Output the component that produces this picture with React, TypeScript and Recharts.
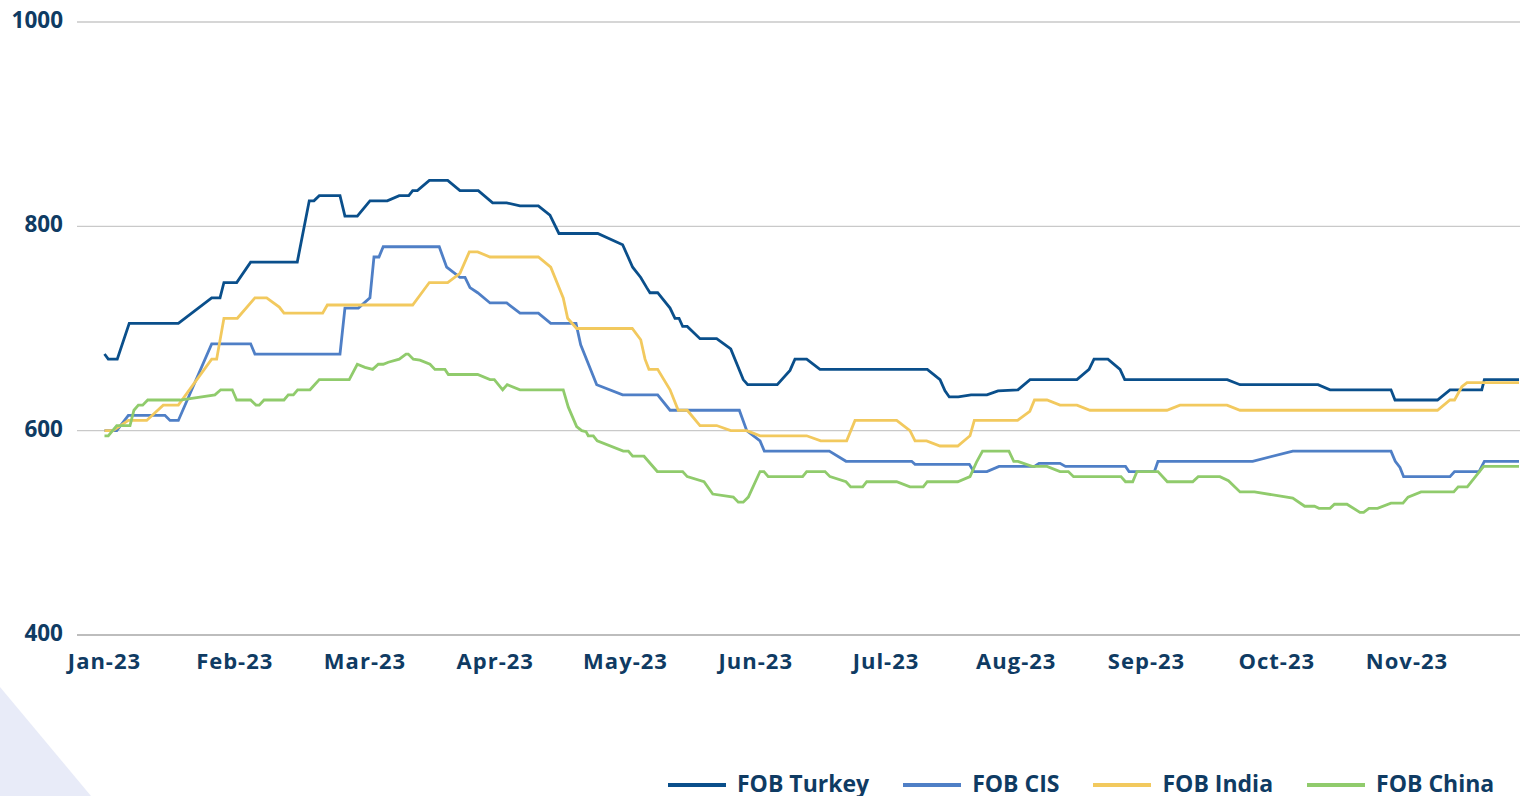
import React from 'react';
import { LineChart, Line, XAxis, YAxis, CartesianGrid } from 'recharts';

// X positions are in months since Jan-23 (0 = Jan-23, 1 = Feb-23, ...)
const monthLabels = ['Jan-23', 'Feb-23', 'Mar-23', 'Apr-23', 'May-23', 'Jun-23', 'Jul-23', 'Aug-23', 'Sep-23', 'Oct-23', 'Nov-23'];
const monthTicks = monthLabels.map((_, i) => i);
const yTicks = [400, 600, 800, 1000];

const fobTurkey: [number, number][] = [
  [0, 675], [0.029, 670], [0.098, 670], [0.19, 705], [0.567, 705], [0.823, 730], [0.887, 730], [0.917, 745],
  [1.015, 745], [1.122, 765], [1.48, 765], [1.572, 825], [1.608, 825], [1.649, 830], [1.808, 830], [1.846, 810],
  [1.941, 810], [2.038, 825], [2.171, 825], [2.263, 830], [2.336, 830], [2.366, 835], [2.402, 835], [2.494, 845],
  [2.635, 845], [2.729, 835], [2.87, 835], [2.98, 823], [3.088, 823], [3.19, 820], [3.331, 820], [3.42, 811],
  [3.489, 793], [3.787, 793], [3.978, 782], [4.055, 760], [4.117, 750], [4.163, 740], [4.188, 735], [4.247, 735],
  [4.342, 720], [4.38, 710], [4.411, 710], [4.439, 702], [4.474, 702], [4.572, 690], [4.7, 690], [4.808, 680],
  [4.904, 650], [4.938, 645], [5.165, 645], [5.263, 659], [5.301, 670], [5.391, 670], [5.493, 660], [6.317, 660],
  [6.415, 650], [6.453, 639], [6.486, 633], [6.555, 633], [6.653, 635], [6.775, 635], [6.86, 639], [7.013, 640],
  [7.106, 650], [7.466, 650], [7.559, 660], [7.597, 670], [7.704, 670], [7.797, 660], [7.833, 650], [8.62, 650],
  [8.718, 645], [9.317, 645], [9.409, 640], [9.877, 640], [9.908, 630], [10.234, 630], [10.33, 640], [10.574, 640],
  [10.594, 650], [10.86, 650],
];

const fobCIS: [number, number][] = [
  [0, 600], [0.094, 600], [0.183, 615], [0.464, 615], [0.503, 610], [0.567, 610], [0.823, 685], [1.122, 685],
  [1.155, 675], [1.808, 675], [1.846, 720], [1.949, 720], [2.038, 730], [2.069, 770], [2.107, 770], [2.14, 780],
  [2.57, 780], [2.627, 760], [2.729, 750], [2.768, 750], [2.806, 740], [2.865, 735], [2.96, 725], [3.088, 725],
  [3.19, 715], [3.331, 715], [3.426, 705], [3.62, 705], [3.656, 684], [3.779, 645], [3.978, 635], [4.247, 635],
  [4.342, 620], [4.874, 620], [4.931, 600], [5.033, 590], [5.066, 580], [5.565, 580], [5.693, 570], [6.197, 570],
  [6.223, 567], [6.64, 567], [6.674, 560], [6.775, 560], [6.868, 565], [7.14, 565], [7.175, 568], [7.336, 568],
  [7.378, 565], [7.839, 565], [7.866, 560], [8.061, 560], [8.088, 570], [8.815, 570], [9.123, 580], [9.877, 580],
  [9.91, 570], [9.946, 564], [9.974, 555], [10.33, 555], [10.365, 560], [10.553, 560], [10.594, 570], [10.86, 570],
];

const fobIndia: [number, number][] = [
  [0, 600], [0.065, 600], [0.183, 610], [0.324, 610], [0.451, 625], [0.567, 625], [0.823, 670], [0.861, 670],
  [0.917, 710], [1.02, 710], [1.155, 730], [1.245, 730], [1.342, 721], [1.378, 715], [1.675, 715], [1.711, 723],
  [2.366, 723], [2.494, 745], [2.635, 745], [2.729, 754], [2.801, 775], [2.865, 775], [2.96, 770], [3.331, 770],
  [3.426, 760], [3.522, 730], [3.556, 710], [3.625, 700], [4.052, 700], [4.117, 689], [4.15, 670], [4.18, 660],
  [4.247, 660], [4.342, 640], [4.405, 620], [4.474, 620], [4.572, 605], [4.7, 605], [4.808, 600], [4.931, 600],
  [5.033, 595], [5.391, 595], [5.499, 590], [5.698, 590], [5.762, 610], [6.082, 610], [6.184, 600], [6.223, 590],
  [6.312, 590], [6.415, 585], [6.551, 585], [6.645, 595], [6.678, 610], [7.01, 610], [7.104, 619], [7.14, 630],
  [7.236, 630], [7.336, 625], [7.466, 625], [7.566, 620], [8.157, 620], [8.257, 625], [8.618, 625], [8.718, 620],
  [10.234, 620], [10.33, 630], [10.365, 630], [10.421, 643], [10.461, 647], [10.86, 647],
];

const fobChina: [number, number][] = [
  [0, 595], [0.029, 595], [0.094, 605], [0.196, 605], [0.226, 620], [0.26, 625], [0.293, 625], [0.332, 630],
  [0.58, 630], [0.848, 635], [0.892, 640], [0.981, 640], [1.015, 630], [1.122, 630], [1.163, 625], [1.188, 625],
  [1.225, 630], [1.378, 630], [1.411, 635], [1.45, 635], [1.483, 640], [1.578, 640], [1.649, 650], [1.879, 650],
  [1.941, 665], [2.0, 662], [2.059, 660], [2.102, 665], [2.14, 665], [2.179, 667], [2.263, 670], [2.315, 675],
  [2.332, 675], [2.371, 670], [2.422, 669], [2.499, 665], [2.537, 660], [2.614, 660], [2.64, 655], [2.865, 655],
  [2.96, 650], [2.993, 650], [3.057, 640], [3.092, 645], [3.19, 640], [3.522, 640], [3.561, 623], [3.625, 604],
  [3.664, 600], [3.697, 599], [3.714, 595], [3.753, 595], [3.783, 590], [3.983, 580], [4.022, 580], [4.055, 575],
  [4.142, 575], [4.244, 560], [4.439, 560], [4.474, 555], [4.603, 550], [4.67, 538], [4.828, 535], [4.866, 530],
  [4.904, 530], [4.943, 535], [5.033, 560], [5.063, 560], [5.096, 555], [5.36, 555], [5.391, 560], [5.532, 560],
  [5.57, 555], [5.693, 550], [5.729, 545], [5.821, 545], [5.852, 550], [6.082, 550], [6.184, 545], [6.286, 545],
  [6.317, 550], [6.551, 550], [6.645, 555], [6.694, 569], [6.741, 580], [6.944, 580], [6.981, 570], [7.013, 570],
  [7.121, 565], [7.236, 565], [7.336, 560], [7.4, 560], [7.44, 555], [7.804, 555], [7.839, 550], [7.894, 550],
  [7.927, 560], [8.088, 560], [8.16, 550], [8.355, 550], [8.397, 555], [8.564, 555], [8.629, 551], [8.718, 540],
  [8.829, 540], [9.123, 534], [9.215, 526], [9.29, 526], [9.324, 524], [9.409, 524], [9.443, 528], [9.539, 528],
  [9.639, 520], [9.667, 520], [9.708, 524], [9.774, 524], [9.877, 529], [9.969, 529], [10.008, 535], [10.108, 540],
  [10.359, 540], [10.393, 545], [10.463, 545], [10.588, 565], [10.86, 565],
];

const seriesNames = ['FOB Turkey', 'FOB CIS', 'FOB India', 'FOB China'];
const seriesPoints = [fobTurkey, fobCIS, fobIndia, fobChina];
const seriesColors = ['#0a4f8b', '#4f7fc6', '#f2c95e', '#90cb6c'];

const TEXT_COLOR = '#0f3b63';
const FONT = '"Open Sans", sans-serif';

const series = seriesNames.map((name, i) => ({
  name,
  color: seriesColors[i],
  data: seriesPoints[i].map(([t, v]) => ({ t, v })),
}));

const XTick = (props: any) => {
  const { x, y, payload } = props;
  return (
    <text x={x} y={y} dy={34} textAnchor="middle" fill={TEXT_COLOR} fontFamily={FONT} fontWeight={700} fontSize={22} letterSpacing={1}>
      {monthLabels[payload.value]}
    </text>
  );
};

const YTick = (props: any) => {
  const { x, y, payload } = props;
  return (
    <text x={x} y={y} dy={6} textAnchor="end" fill={TEXT_COLOR} fontFamily={FONT} fontWeight={700} fontSize={22.5}>
      {payload.value}
    </text>
  );
};

export default function App() {
  return (
    <div style={{ position: 'absolute', left: 0, top: 0, width: 1530, height: 796, overflow: 'hidden', background: '#ffffff' }}>
      <svg width={1530} height={796} style={{ position: 'absolute', left: 0, top: 0 }}>
        <polygon points="0,687 91,796 0,796" fill="#e8ebf8" />
      </svg>
      <div style={{ position: 'absolute', left: 0, top: 0 }}>
        <LineChart width={1530} height={796} margin={{ top: 22, right: 10, bottom: 0, left: 0 }}>
          <CartesianGrid horizontal vertical={false} stroke="#c9c9c9" strokeWidth={1.3} />
          <XAxis
            type="number"
            dataKey="t"
            domain={[-0.2111, 10.8676]}
            allowDataOverflow
            ticks={monthTicks}
            interval={0}
            height={161}
            tickLine={false}
            tickSize={0}
            tickMargin={0}
            axisLine={{ stroke: '#b5b5b5', strokeWidth: 1.3 }}
            tick={<XTick />}
          />
          <YAxis
            type="number"
            domain={[400, 1000]}
            ticks={yTicks}
            interval={0}
            width={77}
            axisLine={false}
            tickLine={false}
            tickSize={0}
            tickMargin={14}
            tick={<YTick />}
          />
          {series.map((s) => (
            <Line
              key={s.name}
              data={s.data}
              dataKey="v"
              name={s.name}
              type="linear"
              stroke={s.color}
              strokeWidth={2.8}
              dot={false}
              activeDot={false}
              isAnimationActive={false}
            />
          ))}
        </LineChart>
      </div>
      <div
        style={{
          position: 'absolute',
          left: 668,
          top: 768,
          height: 30,
          display: 'flex',
          alignItems: 'center',
          fontFamily: FONT,
          fontWeight: 700,
          fontSize: 23,
          lineHeight: '30px',
          color: TEXT_COLOR,
          whiteSpace: 'nowrap',
        }}
      >
        {series.map((s) => (
          <div key={s.name} style={{ display: 'flex', alignItems: 'center', marginRight: 34 }}>
            <div style={{ width: 58, height: 4, background: s.color, marginRight: 11, position: 'relative', top: 2 }} />
            <span>{s.name}</span>
          </div>
        ))}
      </div>
    </div>
  );
}
